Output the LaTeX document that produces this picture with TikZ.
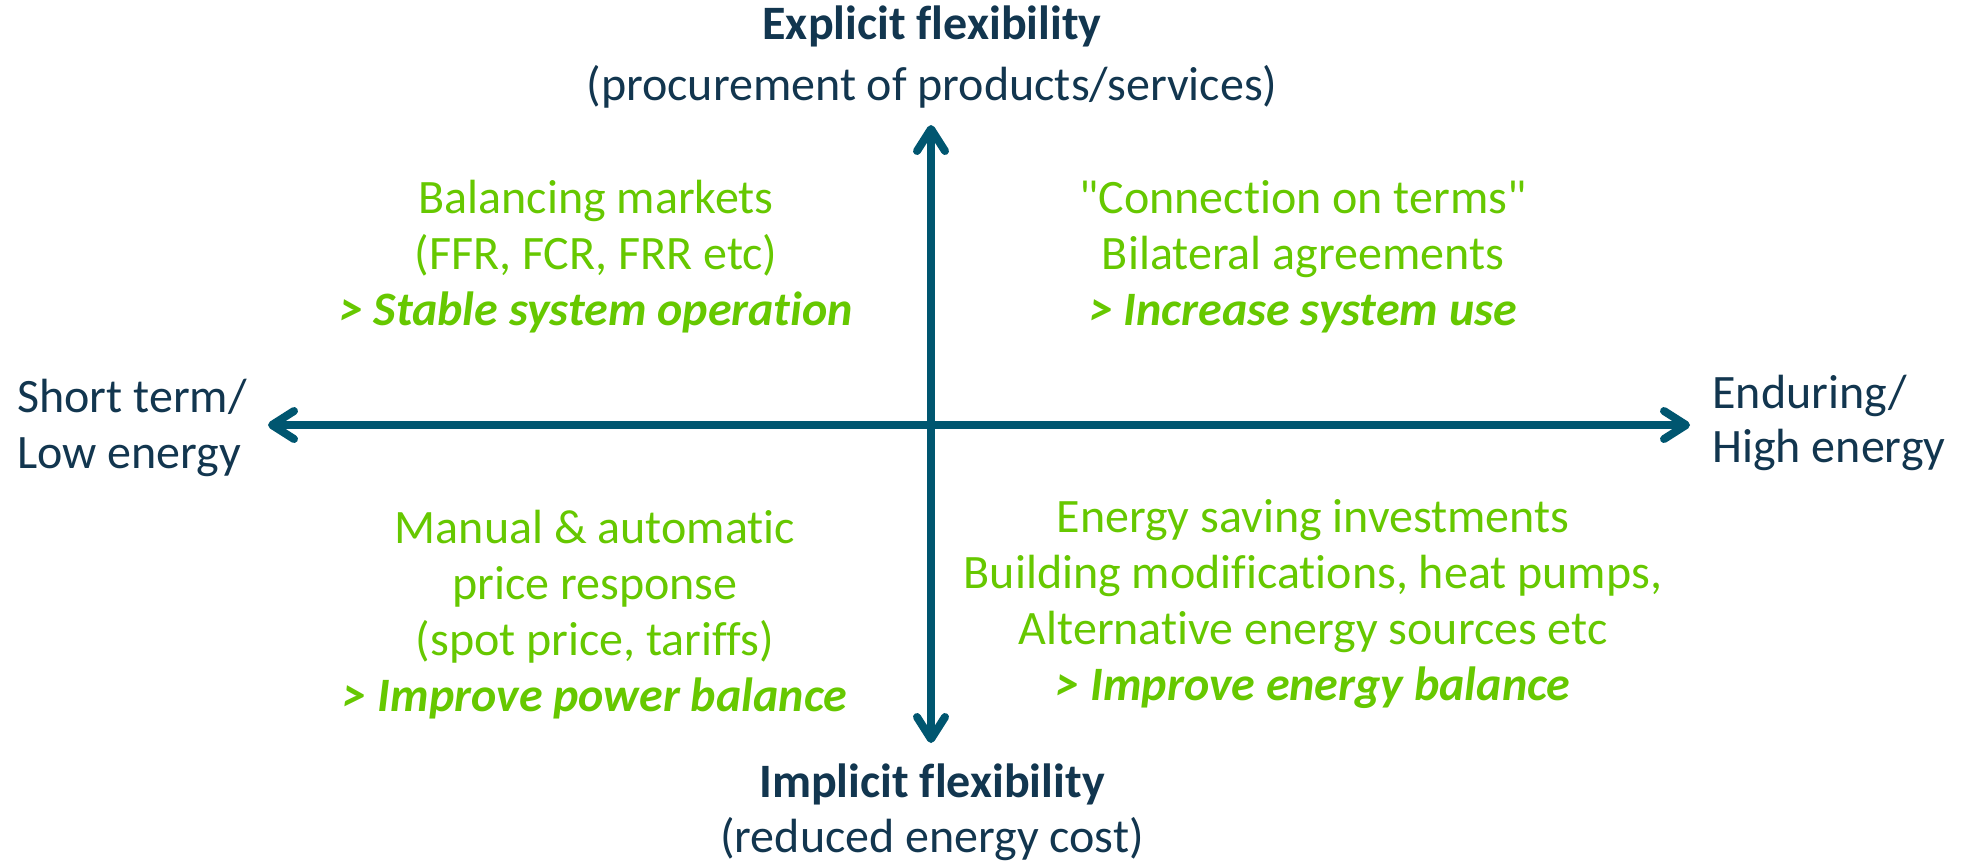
\documentclass[tikz,border=0pt]{standalone}
\usepackage{fontspec}
\newfontfamily\calib{Carlito}[Ligatures=NoCommon]
\usetikzlibrary{arrows.meta}
\definecolor{navy}{HTML}{12364F}
\definecolor{axisblue}{HTML}{005670}
\definecolor{leafgreen}{HTML}{66C800}
\tikzset{
  barb/.tip={Straight Barb[length=11pt,width=14pt,round]},
  axisline/.style={draw=axisblue, line width=4pt, barb-barb},
  lbl/.style={text=navy, font=\calib\fontsize{24}{28}\selectfont, inner sep=0pt, anchor=base},
  quad/.style={text=leafgreen, font=\calib\fontsize{24}{28}\selectfont, align=center, inner sep=0pt, anchor=base}
}
\begin{document}
\begin{tikzpicture}[x=0.5pt,y=-0.5pt]
\useasboundingbox[fill=white] (0,0) rectangle (1962,864);
% axes
\coordinate (L) at (268,425);
\coordinate (R) at (1690,425);
\coordinate (T) at (931,125);
\coordinate (B) at (931,743);
\draw[axisline] (L) -- (R);
\draw[axisline] (B) -- (T);
% axis labels (anchored at the baseline of the last line)
\node[lbl, align=center] (top) at (932,100) {\textbf{Explicit flexibility}\\[2.5pt](procurement of products/services)};
\node[lbl, align=center] (bottom) at (932,852) {\textbf{Implicit flexibility}\\[-0.5pt](reduced energy cost)};
\node[lbl, align=left, anchor=base west] (left) at (17,468) {Short term/\\Low energy};
\node[lbl, align=left, anchor=base west] (right) at (1712,462) {Enduring/\\[-1pt]High energy};
% quadrants
\node[quad] (q1) at (596,325) {Balancing markets\\(FFR, FCR, FRR etc)\\\textbf{\textit{> Stable system operation}}};
\node[quad] (q2) at (1303,325) {"Connection on terms"\\Bilateral agreements\\\textbf{\textit{> Increase system use}}};
\node[quad] (q3) at (595,711) {Manual \& automatic\\price response\\(spot price, tariffs)\\\textbf{\textit{> Improve power balance}}};
\node[quad] (q4) at (1313,700) {Energy saving investments\\Building modifications, heat pumps,\\Alternative energy sources etc\\\textbf{\textit{> Improve energy balance}}};
\end{tikzpicture}
\end{document}
